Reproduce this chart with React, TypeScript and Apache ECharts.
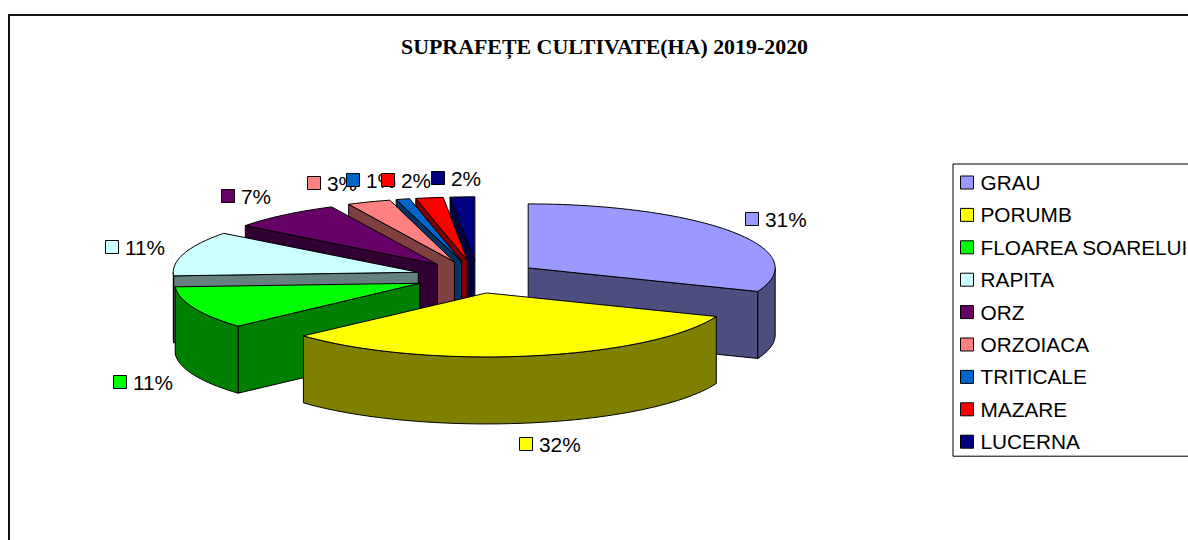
import React, { useEffect, useRef } from "react";
import * as echarts from "echarts";

const TITLE = "SUPRAFEȚE CULTIVATE(HA) 2019-2020";
const categories = ["GRAU", "PORUMB", "FLOAREA SOARELUI", "RAPITA", "ORZ", "ORZOIACA", "TRITICALE", "MAZARE", "LUCERNA"];
const shares = [31, 32.3, 10.8, 11.3, 7.4, 2.9, 0.9, 1.8, 1.6];
const topColors = ["#9999FF", "#FFFF00", "#00FF00", "#CCFFFF", "#660066", "#FF8080", "#0066CC", "#FF0000", "#000080"];
const wallColors = ["#4D4D80", "#808000", "#008000", "#668080", "#330033", "#804040", "#003366", "#800000", "#000040"];

// layout of the 3D pie
const CX = 476.5, CY = 277, RY = 64, DEPTH = 67, EXPLODE = 0.253, BASE_RX = 247;
// slight perspective of the original: horizontal radius and shift per slice
const sliceRx = [247, 247, 245, 245, 242, 242, 245, 245, 247];
const sliceShift = [0, -1, 1, 1.5, 0.5, 0, 0, 1, 1.5];
// label key box (top-left corner) per category
const labelAnchors = [[745, 212], [519, 437], [113, 375], [105, 240], [221, 189], [307, 176], [346, 173], [381, 173], [431, 171]];

const total = shares.reduce((a, b) => a + b, 0);
const rad = (d: number) => (d * Math.PI) / 180;

function sliceAngles(i: number, value: number) {
  let before = 0;
  for (let k = 0; k < i; k++) before += shares[k];
  const start = (before / total) * 360;
  return { start, end: start + (value / total) * 360 };
}

function sliceCenter(i: number, start: number, end: number) {
  const mid = rad((start + end) / 2);
  return {
    x: CX + EXPLODE * BASE_RX * Math.sin(mid) + sliceShift[i],
    y: CY - EXPLODE * RY * Math.cos(mid),
    rx: sliceRx[i],
  };
}

function arcPoints(c: { x: number; y: number; rx: number }, a: number, b: number, dy = 0) {
  const pts: number[][] = [];
  const n = Math.max(2, Math.ceil((b - a) / 2));
  for (let k = 0; k <= n; k++) {
    const t = rad(a + ((b - a) * k) / n);
    pts.push([c.x + c.rx * Math.sin(t), c.y - RY * Math.cos(t) + dy]);
  }
  return pts;
}

function face(points: number[][], fill: string) {
  return {
    type: "polygon",
    shape: { points },
    style: { fill, stroke: "#000", lineWidth: 1, lineJoin: "round" },
  };
}

function sliceRenderer(i: number) {
  return (_params: any, api: any) => {
    const { start, end } = sliceAngles(i, api.value(0));
    const c = sliceCenter(i, start, end);
    const children: any[] = [];
    const radialWall = (deg: number) => {
      const [p] = arcPoints(c, deg, deg);
      return face(
        [[c.x, c.y], p, [p[0], p[1] + DEPTH], [c.x, c.y + DEPTH]],
        wallColors[i],
      );
    };
    if (start > 180) children.push(radialWall(start));
    if (end < 180) children.push(radialWall(end));
    const a = Math.max(start, 90);
    const b = Math.min(end, 270);
    if (b > a) {
      const top = arcPoints(c, a, b);
      const bottom = arcPoints(c, a, b, DEPTH).reverse();
      children.push(face([...top, ...bottom], wallColors[i]));
    }
    children.push(face([[c.x, c.y], ...arcPoints(c, start, end)], topColors[i]));
    return { type: "group", children };
  };
}

function labelRenderer(params: any, api: any) {
  const i = params.dataIndex;
  const [x, y] = labelAnchors[i];
  return {
    type: "group",
    children: [
      {
        type: "rect",
        shape: { x: x + 0.5, y: y + 0.5, width: 13, height: 13 },
        style: { fill: topColors[i], stroke: "#000", lineWidth: 1 },
      },
      {
        type: "text",
        style: {
          x: x + 20,
          y: y + 7,
          text: `${Math.round((api.value(0) / total) * 100)}%`,
          fill: "#000",
          fontSize: 20.8,
          fontFamily: "Liberation Sans",
          verticalAlign: "middle",
          align: "left",
        },
      },
    ],
  };
}

// back-to-front painting order of the exploded slices
const depthRank = shares
  .map((v, i) => {
    const { start, end } = sliceAngles(i, v);
    return { i, y: sliceCenter(i, start, end).y };
  })
  .sort((p, q) => p.y - q.y)
  .map((o) => o.i);

export default function App() {
  const ref = useRef<HTMLDivElement>(null);
  useEffect(() => {
    const chart = echarts.init(ref.current!, undefined, { renderer: "svg" });
    chart.setOption({
      animation: false,
      backgroundColor: "#fff",
      title: {
        text: TITLE,
        left: 599.5,
        top: 30,
        textAlign: "center",
        textVerticalAlign: "top",
        textStyle: { fontFamily: "Liberation Serif", fontWeight: "bold", fontSize: 21.9, color: "#000" },
      },
      legend: {
        show: true,
        orient: "vertical",
        left: 953,
        top: 164,
        data: categories,
        selectedMode: false,
        icon: "rect",
        itemWidth: 13,
        itemHeight: 13,
        itemGap: 11.4,
        padding: [8, 8, 4, 7],
        borderColor: "#000",
        borderWidth: 1,
        backgroundColor: "#fff",
        itemStyle: { borderColor: "#000", borderWidth: 1 },
        textStyle: { fontFamily: "Liberation Sans", fontSize: 20.8, color: "#000", lineHeight: 20, padding: [0, 0, 0, 2], height: 20 },
      },
      graphic: [
        {
          type: "rect",
          silent: true,
          z: -1,
          shape: { x: 9, y: 15, width: 1400, height: 800 },
          style: { fill: "none", stroke: "#111", lineWidth: 2 },
        },
      ],
      series: [
        ...categories.map((name, i) => ({
          type: "custom",
          name,
          coordinateSystem: "none",
          silent: true,
          z: 2 + depthRank.indexOf(i),
          itemStyle: { color: topColors[i] },
          data: [[shares[i]]],
          renderItem: sliceRenderer(i),
        })),
        {
          type: "custom",
          name: "labels",
          coordinateSystem: "none",
          silent: true,
          z: 20,
          data: shares.map((v) => [v]),
          renderItem: labelRenderer,
        },
      ],
    });
    return () => chart.dispose();
  }, []);
  return (
    <div style={{ position: "fixed", left: 0, top: 0, width: 1188, height: 540, overflow: "hidden", background: "#fff" }}>
      <div ref={ref} style={{ width: 1188, height: 540 }} />
    </div>
  );
}
